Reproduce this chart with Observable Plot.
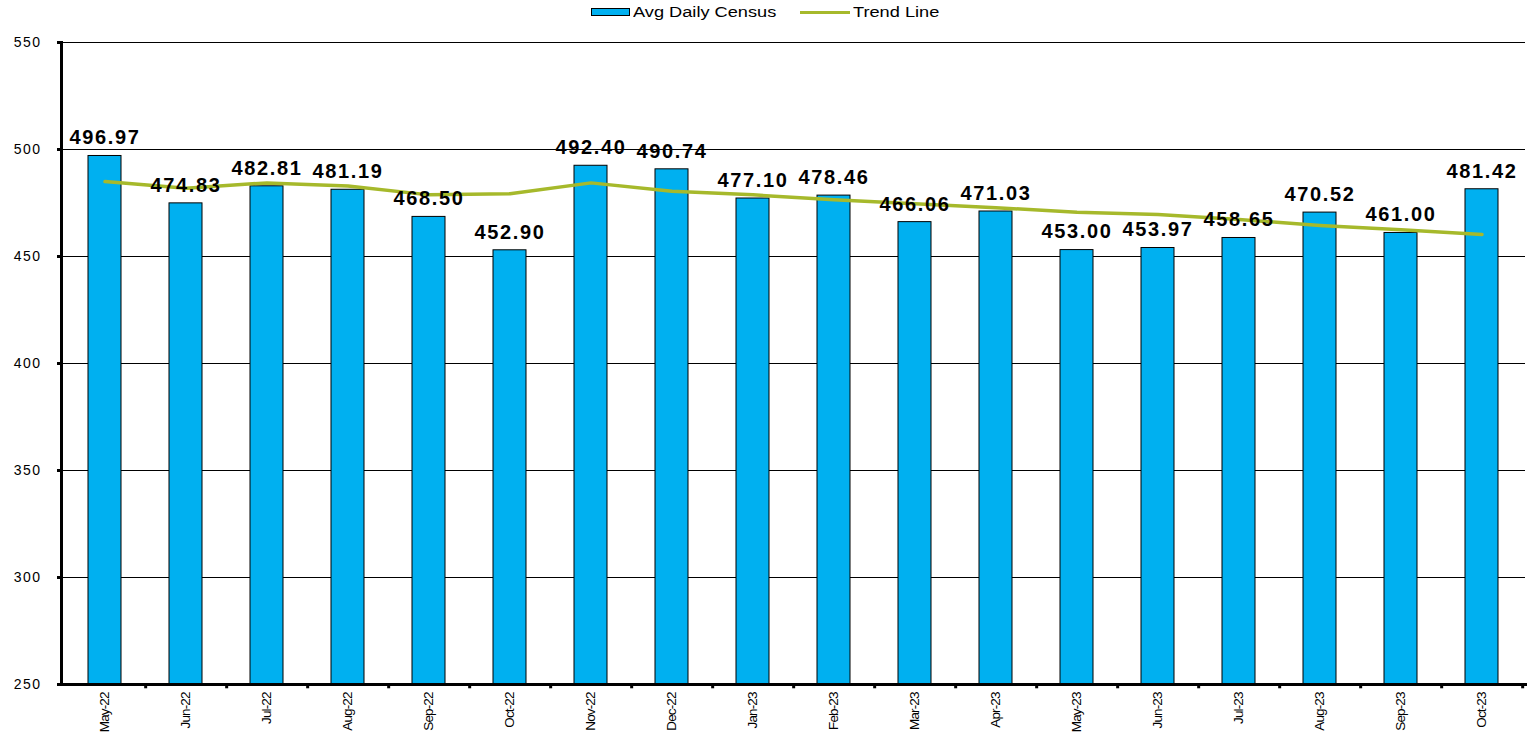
<!DOCTYPE html>
<html><head><meta charset="utf-8">
<script src="https://cdn.jsdelivr.net/npm/d3@7"></script>
<script src="https://cdn.jsdelivr.net/npm/@observablehq/plot@0.6"></script>
<style>
body{margin:0;background:#fff;font-family:"Liberation Sans",Arial,sans-serif;}
#legend{position:relative;height:24px;width:1528px;}
#legend .item{position:absolute;top:4px;height:16px;display:flex;align-items:center;}
#legend .txt{display:inline-block;font-size:14px;color:#000;transform:scaleX(1.3);transform-origin:left center;white-space:nowrap;}
#legend .sw-bar{width:37px;height:6px;background:#00B0F0;border:1px solid #000;margin-right:3px;}
#legend .sw-line{width:50px;height:3px;background:#a6b92b;margin-right:3px;}
g[aria-label="text"] text{letter-spacing:1.6px;}
g[aria-label="y-axis tick label"] text{letter-spacing:1.5px;}
g[aria-label="x-axis tick label"] text{letter-spacing:-0.9px;}
</style></head><body>
<div id="legend">
  <div class="item" style="left:591px"><span class="sw-bar"></span><span class="txt">Avg Daily Census</span></div>
  <div class="item" style="left:800px"><span class="sw-line"></span><span class="txt">Trend Line</span></div>
</div>
<div id="chart"></div>
<script>
const months = ["May-22","Jun-22","Jul-22","Aug-22","Sep-22","Oct-22","Nov-22","Dec-22","Jan-23","Feb-23","Mar-23","Apr-23","May-23","Jun-23","Jul-23","Aug-23","Sep-23","Oct-23"];
const census = [496.97,474.83,482.81,481.19,468.50,452.90,492.40,490.74,477.10,478.46,466.06,471.03,453.00,453.97,458.65,470.52,461.00,481.42];
const trend = [485.0,481.9,484.4,482.9,478.8,479.3,484.4,480.5,478.8,476.5,474.6,472.8,470.7,469.6,467.3,464.5,462.5,460.3];
const yTicks = [250,300,350,400,450,500,550];

const data = months.map((m, i) => ({month: m, census: census[i], trend: trend[i]}));
const W = 1528, H = 713, mL = 61, mR = 3, mT = 18, mB = 53;
const step = (W - mL - mR) / months.length;

const chart = Plot.plot({
  width: W, height: H,
  marginLeft: mL, marginRight: mR, marginTop: mT, marginBottom: mB,
  style: {fontFamily: '"Liberation Sans", Arial, sans-serif', background: "white", color: "#000"},
  x: {domain: months, paddingInner: 0.59, paddingOuter: 0.295, axis: null},
  y: {domain: [250, 550], axis: null},
  marks: [
    Plot.ruleY(yTicks.slice(1), {stroke: "#000", strokeWidth: 1}),
    Plot.barY(data, {x: "month", y1: 250, y2: "census", fill: "#00B0F0", stroke: "#000", strokeWidth: 1}),
    Plot.line(data, {x: "month", y: "trend", stroke: "#a6b92b", strokeWidth: 3.5}),
    Plot.text(data, {x: "month", y: "census", text: d => d.census.toFixed(2), dy: -18, fontSize: 20, fontWeight: "bold", fill: "#000"}),
    Plot.axisY({ticks: yTicks, tickSize: 4, tickPadding: 16, tickFormat: d => d, fontSize: 14, strokeWidth: 3}),
    Plot.axisX({tickSize: 0, tickRotate: -90, tickPadding: 8, fontSize: 13.5, label: null}),
    Plot.ruleX(months, {x: d => d, y1: 250, y2: 248, dx: step / 2, strokeWidth: 3}),
    Plot.frame({anchor: "left", strokeWidth: 3}),
    Plot.frame({anchor: "bottom", strokeWidth: 3})
  ]
});
document.getElementById("chart").appendChild(chart);
</script>
</body></html>
